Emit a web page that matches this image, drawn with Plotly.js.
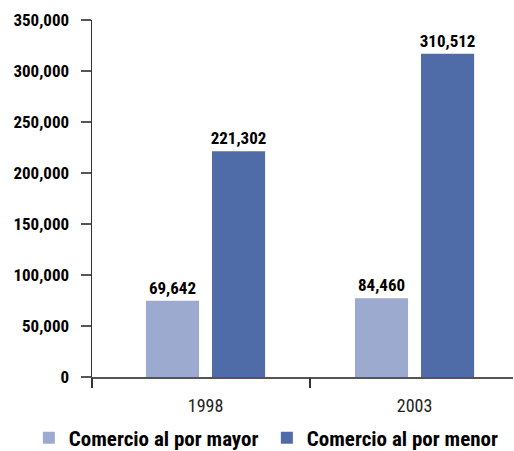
<!DOCTYPE html>
<html>
<head>
<meta charset="utf-8">
<script src="https://cdn.plot.ly/plotly-3.0.1.min.js"></script>
<style>html,body{margin:0;padding:0;background:#fff;}#chart{width:514px;height:451px;}</style>
</head>
<body>
<div id="chart"></div>
<script>
// Data
var categories = ['1998', '2003'];
var seriesNames = ['Comercio al por mayor', 'Comercio al por menor'];
// bar heights as drawn
var mayorValues = [74800, 77100];
var menorValues = [221400, 316900];
// printed value labels
var mayorLabels = ['69,642', '84,460'];
var menorLabels = ['221,302', '310,512'];

var xIdx = categories.map(function (c, i) { return i; });
var FONT = 'Roboto Condensed, Liberation Sans Narrow, sans-serif';

var traces = [
  {
    type: 'bar', name: seriesNames[0], x: xIdx, y: mayorValues,
    text: mayorLabels, textposition: 'outside', cliponaxis: false, constraintext: 'none',
    textfont: {family: FONT, size: 17, color: '#000', weight: 'bold'},
    marker: {color: '#9DAAD0'}, hoverinfo: 'skip'
  },
  {
    type: 'bar', name: seriesNames[1], x: xIdx, y: menorValues,
    text: menorLabels, textposition: 'outside', cliponaxis: false, constraintext: 'none',
    textfont: {family: FONT, size: 17, color: '#000', weight: 'bold'},
    marker: {color: '#4F6CA8'}, hoverinfo: 'skip'
  },
  {
    type: 'scatter', x: [], y: [], xaxis: 'x2', showlegend: false, hoverinfo: 'skip'
  }
];

var xr = [-0.543, 1.471];
var layout = {
  width: 514, height: 451,
  margin: {l: 92, r: 1, t: 20, b: 74, autoexpand: false},
  paper_bgcolor: '#fff', plot_bgcolor: '#fff',
  font: {family: FONT, color: '#000'},
  barmode: 'group', bargap: 0.368, bargroupgap: 0.196,
  showlegend: true,
  legend: {
    orientation: 'h', bgcolor: 'rgba(0,0,0,0)',
    x: -0.150, xanchor: 'left', y: -0.171, yanchor: 'middle',
    font: {family: FONT, size: 21, color: '#000', weight: 'bold'},
    entrywidth: 193, entrywidthmode: 'pixels', traceorder: 'normal'
  },
  xaxis: {
    type: 'linear', range: xr, tickmode: 'array', tickvals: xIdx, ticktext: categories,
    ticks: '', showgrid: false, zeroline: false,
    showline: true, linecolor: '#555', linewidth: 1.5,
    tickfont: {family: FONT, size: 18, color: '#222'}, ticklabelstandoff: 12
  },
  xaxis2: {
    type: 'linear', overlaying: 'x', anchor: 'y', side: 'bottom', range: xr,
    tickmode: 'array', tickvals: [-0.543, 0.5], ticks: 'outside', ticklen: 10,
    tickcolor: '#333', tickwidth: 1.5, showticklabels: false, showgrid: false,
    zeroline: false, showline: false
  },
  yaxis: {
    range: [0, 350000], tickmode: 'linear', tick0: 0, dtick: 50000, tickformat: ',d',
    ticks: 'outside', ticklen: 10, tickcolor: '#555', tickwidth: 1.5,
    showline: true, linecolor: '#333', linewidth: 1.5,
    showgrid: false, zeroline: false,
    tickfont: {family: FONT, size: 17, color: '#000', weight: 'bold'}, ticklabelstandoff: 8
  }
};

Plotly.newPlot('chart', traces, layout, {displayModeBar: false, staticPlot: true});
</script>
</body>
</html>
